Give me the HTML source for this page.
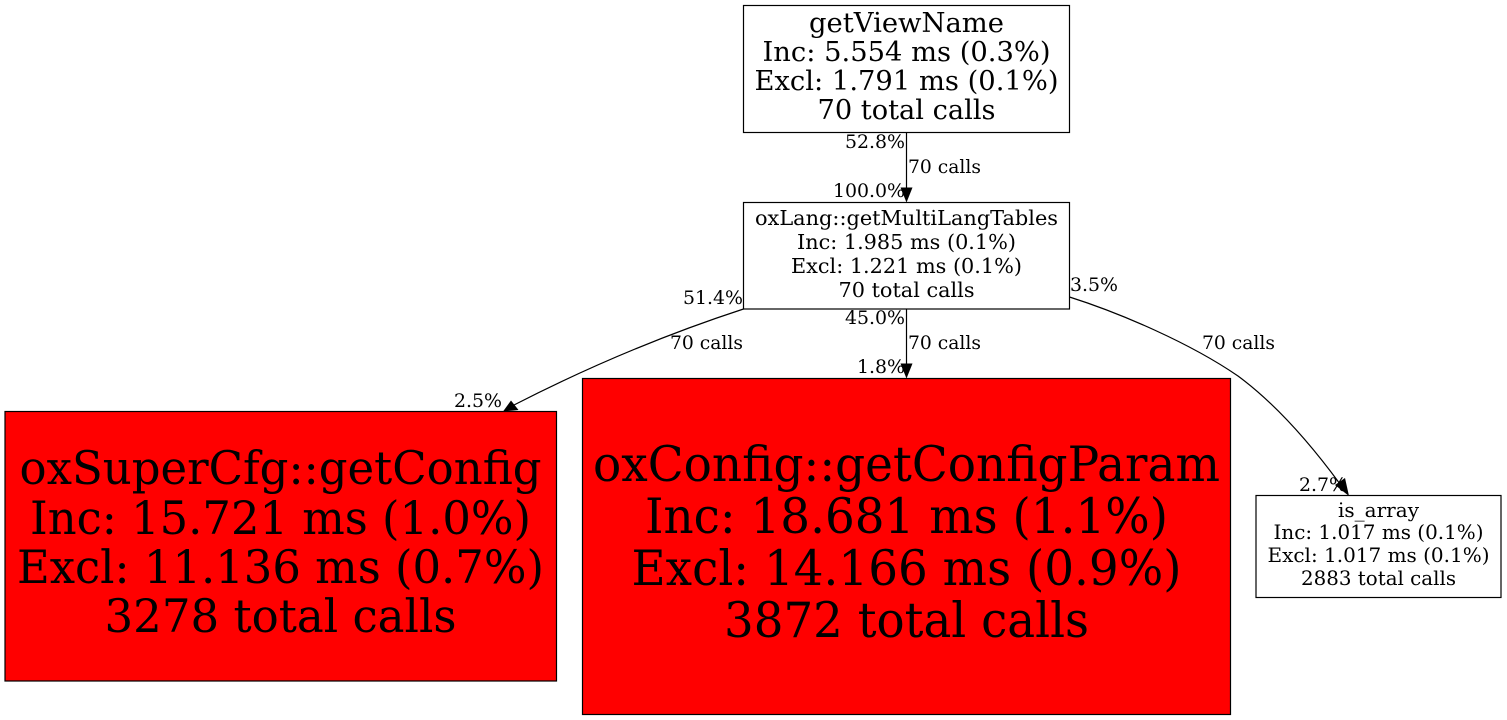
<!DOCTYPE html>
<html><head><meta charset="utf-8"><style>
html,body{margin:0;padding:0;background:#fff;width:1507px;height:720px;overflow:hidden}
svg{display:block}
text{font-family:"DejaVu Serif",serif;fill:#000}
.c{text-anchor:middle}
.e{font-size:18.7px}
.r{text-anchor:end}
</style></head><body>
<svg width="1507" height="720" viewBox="0 0 1507 720" xmlns="http://www.w3.org/2000/svg">
<g fill="#fff" stroke="#000" stroke-width="1.2">
<rect x="743.5" y="5.5" width="326" height="127"/>
<rect x="743.5" y="202.5" width="326" height="106.5"/>
<rect x="5" y="411.5" width="551.5" height="269.5" fill="#f00"/>
<rect x="582.5" y="378.5" width="648" height="336" fill="#f00"/>
<rect x="1256" y="495.5" width="245" height="102"/>
</g>
<g fill="none" stroke="#000" stroke-width="1.2">
<path d="M906.5 133V190"/>
<path d="M906.5 309V366"/>
<path d="M743.5 309C670 333 590 366 514 405"/>
<path d="M1069.5 297C1120 313 1190 343 1238 376C1280 407 1315 450 1340 484"/>
</g>
<g fill="#000" stroke="none">
<polygon points="906.5,202.5 900.5,187.5 912.5,187.5"/>
<polygon points="906.5,378.5 900.5,363.5 912.5,363.5"/>
<polygon points="503,411.5 511,400.5 518.5,410"/>
<polygon points="1349,496 1335,485 1345,478"/>
</g>
<g style="font-size:27px">
<text class="c" x="906.5" y="32" textLength="195" lengthAdjust="spacingAndGlyphs">getViewName</text>
<text class="c" x="906.5" y="61" textLength="288" lengthAdjust="spacingAndGlyphs">Inc: 5.554 ms (0.3%)</text>
<text class="c" x="906.5" y="90" textLength="304" lengthAdjust="spacingAndGlyphs">Excl: 1.791 ms (0.1%)</text>
<text class="c" x="906.5" y="119" textLength="178" lengthAdjust="spacingAndGlyphs">70 total calls</text>
</g>
<g style="font-size:20.5px">
<text class="c" x="906.5" y="225" textLength="303" lengthAdjust="spacingAndGlyphs">oxLang::getMultiLangTables</text>
<text class="c" x="906.5" y="249" textLength="219" lengthAdjust="spacingAndGlyphs">Inc: 1.985 ms (0.1%)</text>
<text class="c" x="906.5" y="273" textLength="231" lengthAdjust="spacingAndGlyphs">Excl: 1.221 ms (0.1%)</text>
<text class="c" x="906.5" y="297" textLength="136" lengthAdjust="spacingAndGlyphs">70 total calls</text>
</g>
<g style="font-size:46px">
<text class="c" x="280.5" y="484" textLength="522" lengthAdjust="spacingAndGlyphs">oxSuperCfg::getConfig</text>
<text class="c" x="280.5" y="534" textLength="501" lengthAdjust="spacingAndGlyphs">Inc: 15.721 ms (1.0%)</text>
<text class="c" x="280.5" y="583" textLength="527" lengthAdjust="spacingAndGlyphs">Excl: 11.136 ms (0.7%)</text>
<text class="c" x="280.5" y="632" textLength="352" lengthAdjust="spacingAndGlyphs">3278 total calls</text>
</g>
<g style="font-size:49px">
<text class="c" x="906.5" y="481" textLength="627" lengthAdjust="spacingAndGlyphs">oxConfig::getConfigParam</text>
<text class="c" x="906.5" y="533" textLength="523" lengthAdjust="spacingAndGlyphs">Inc: 18.681 ms (1.1%)</text>
<text class="c" x="906.5" y="585" textLength="550" lengthAdjust="spacingAndGlyphs">Excl: 14.166 ms (0.9%)</text>
<text class="c" x="906.5" y="637" textLength="365" lengthAdjust="spacingAndGlyphs">3872 total calls</text>
</g>
<g style="font-size:19.5px">
<text class="c" x="1378.5" y="517" textLength="81" lengthAdjust="spacingAndGlyphs">is_array</text>
<text class="c" x="1378.5" y="539" textLength="210" lengthAdjust="spacingAndGlyphs">Inc: 1.017 ms (0.1%)</text>
<text class="c" x="1378.5" y="562" textLength="222" lengthAdjust="spacingAndGlyphs">Excl: 1.017 ms (0.1%)</text>
<text class="c" x="1378.5" y="585" textLength="155" lengthAdjust="spacingAndGlyphs">2883 total calls</text>
</g>
<g>
<text class="e r" x="905" y="148" textLength="60" lengthAdjust="spacingAndGlyphs">52.8%</text>
<text class="e" x="908" y="173" textLength="73" lengthAdjust="spacingAndGlyphs">70 calls</text>
<text class="e r" x="905" y="197" textLength="72" lengthAdjust="spacingAndGlyphs">100.0%</text>
<text class="e r" x="743" y="304" textLength="60" lengthAdjust="spacingAndGlyphs">51.4%</text>
<text class="e" x="670" y="349" textLength="73" lengthAdjust="spacingAndGlyphs">70 calls</text>
<text class="e r" x="502" y="407" textLength="48" lengthAdjust="spacingAndGlyphs">2.5%</text>
<text class="e r" x="905" y="324" textLength="60" lengthAdjust="spacingAndGlyphs">45.0%</text>
<text class="e" x="908" y="349" textLength="73" lengthAdjust="spacingAndGlyphs">70 calls</text>
<text class="e r" x="905" y="373" textLength="48" lengthAdjust="spacingAndGlyphs">1.8%</text>
<text class="e" x="1070" y="291" textLength="48" lengthAdjust="spacingAndGlyphs">3.5%</text>
<text class="e" x="1202" y="349" textLength="73" lengthAdjust="spacingAndGlyphs">70 calls</text>
<text class="e r" x="1347" y="491" textLength="48" lengthAdjust="spacingAndGlyphs">2.7%</text>
</g>
</svg>
</body></html>
